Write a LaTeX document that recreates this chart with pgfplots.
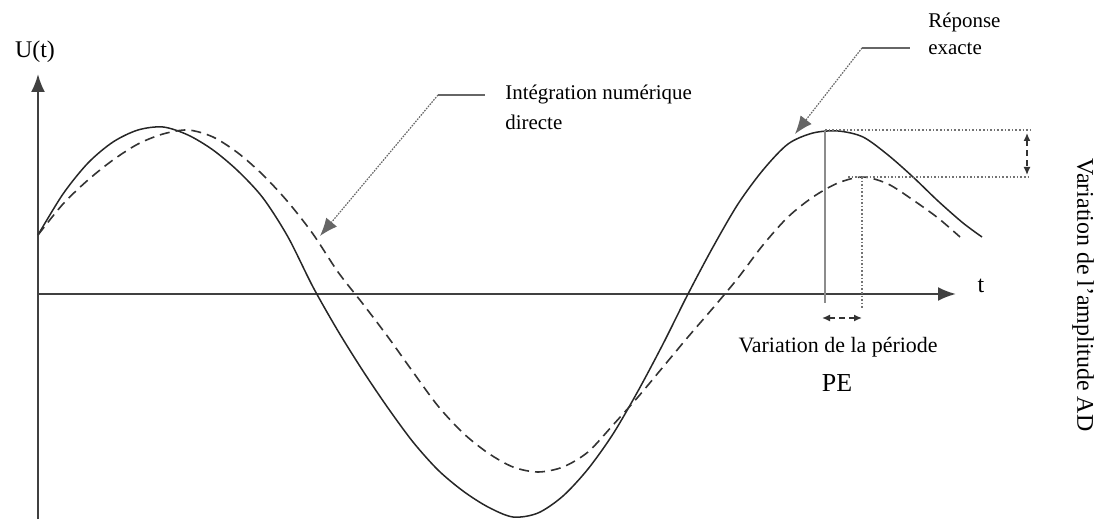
\documentclass[border=0pt]{standalone}
\usepackage{fontspec}
\setmainfont{Liberation Serif}
\usepackage{pgfplots}
\pgfplotsset{compat=1.18}
\usetikzlibrary{arrows.meta}
\begin{document}
\begin{tikzpicture}
\begin{axis}[
  scale only axis, width=551bp, height=259.5bp,
  xmin=-38, xmax=1064, ymin=-225, ymax=294,
  hide axis, clip=false,
]
\path (rel axis cs:0,0) rectangle (rel axis cs:1,1);
% axes
\draw[line width=1.1bp, black!75, -{Latex[length=9bp,width=7bp]}] (axis cs:0,-225) -- (axis cs:0,220);
\draw[line width=1.1bp, black!75, -{Latex[length=9bp,width=7bp]}] (axis cs:0,0) -- (axis cs:918,0);
\node at (axis cs:-3,242) {\fontsize{12}{14}\selectfont U(t)};
\node at (axis cs:943,8) {\fontsize{12}{14}\selectfont t};
% exact response (solid)
\addplot[smooth, line width=0.75bp, black!85] coordinates {
(0,59) (25,100) (50,131) (75,152) (100,164) (125,167) (150,159) (175,144)
(200,123) (225,96) (250,57) (275,7) (300,-37) (325,-77) (350,-114)
(375,-148) (400,-176) (425,-197) (450,-213) (475,-223) (500,-219)
(525,-202) (550,-175) (575,-140) (600,-97) (625,-50) (650,0) (675,47)
(700,90) (725,124) (750,150) (775,161) (800,163) (825,157) (850,139)
(875,117) (900,93) (925,71) (944,57)
};
% numerical integration (dashed)
\addplot[smooth, line width=0.8bp, black!80, dash pattern=on 5bp off 3bp] coordinates {
(0,59) (25,90) (50,114) (75,134) (100,150) (125,160) (150,164) (175,157)
(200,141) (225,119) (250,92) (275,60) (300,22) (325,-10) (350,-43)
(375,-78) (400,-112) (425,-139) (450,-159) (475,-173) (500,-178)
(525,-173) (550,-158) (575,-131) (600,-103) (625,-73) (650,-43)
(675,-14) (700,16) (725,49) (750,77) (775,97) (800,111) (825,117)
(850,110) (875,94) (900,76) (922,57)
};
% period variation
\draw[black!45, line width=0.6bp] (axis cs:787,163) -- (axis cs:787,-9);
\draw[black!55, line width=0.8bp, densely dotted] (axis cs:824,117) -- (axis cs:824,-14);
\draw[black!80, line width=0.7bp, dash pattern=on 3bp off 2bp, {Latex[length=4bp,width=3.5bp]}-{Latex[length=4bp,width=3.5bp]}] (axis cs:784,-24) -- (axis cs:824,-24);
\node at (axis cs:800,-53) {\fontsize{11}{13}\selectfont Variation de la période};
\node at (axis cs:799,-89) {\fontsize{13}{15}\selectfont PE};
% amplitude variation
\draw[black!55, line width=0.8bp, densely dotted] (axis cs:787,164) -- (axis cs:992,164);
\draw[black!55, line width=0.8bp, densely dotted] (axis cs:810,117) -- (axis cs:992,117);
\draw[black!80, line width=0.7bp, dash pattern=on 3bp off 2bp, {Latex[length=4bp,width=3.5bp]}-{Latex[length=4bp,width=3.5bp]}] (axis cs:989,161) -- (axis cs:989,119);
\node[rotate=-90] at (axis cs:1045,-1) {\fontsize{12}{14}\selectfont Variation de l'amplitude AD};
% labels with leaders
\draw[black!60, line width=0.6bp] (axis cs:400,199) -- (axis cs:447,199);
\draw[black!60, line width=0.6bp, dash pattern=on 0.8bp off 0.6bp, -{Latex[length=9bp,width=7bp]}] (axis cs:400,199) -- (axis cs:282,58);
\node[anchor=west, inner sep=0pt] at (axis cs:467,200) {\fontsize{10.5}{12}\selectfont Intégration numérique};
\node[anchor=west, inner sep=0pt] at (axis cs:467,172) {\fontsize{10.5}{12}\selectfont directe};
\draw[black!60, line width=0.6bp] (axis cs:824,246) -- (axis cs:872,246);
\draw[black!60, line width=0.6bp, dash pattern=on 0.8bp off 0.6bp, -{Latex[length=9bp,width=7bp]}] (axis cs:824,246) -- (axis cs:757,160);
\node[anchor=west, inner sep=0pt] at (axis cs:890,272) {\fontsize{10.5}{12}\selectfont Réponse};
\node[anchor=west, inner sep=0pt] at (axis cs:890,245) {\fontsize{10.5}{12}\selectfont exacte};
\end{axis}
\end{tikzpicture}
\end{document}
